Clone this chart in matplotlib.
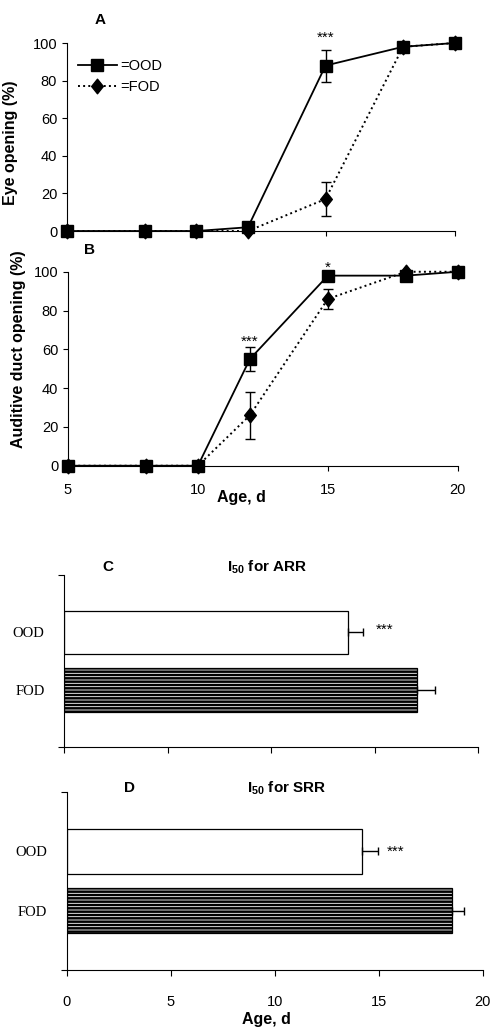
import numpy as np
import matplotlib
matplotlib.use("Agg")
import matplotlib.pyplot as plt
from matplotlib.path import Path

plt.rcParams["font.family"] = ["Liberation Sans", "DejaVu Sans"]
plt.rcParams["mathtext.fontset"] = "custom"
plt.rcParams["mathtext.rm"] = "Liberation Sans:bold"
plt.rcParams["mathtext.bf"] = "Liberation Sans:bold"
plt.rcParams["hatch.linewidth"] = 1.8

# Panels A and B: percentage of pups with opened eyes / auditive ducts by age
ages = [5, 8, 10, 12, 15, 18, 20]
eye_ood = [0, 0, 0, 2, 88, 98, 100]
eye_ood_err = [0, 0, 0, 0, 8.5, 0, 0]
eye_fod = [0, 0, 0, 0, 17, 98, 100]
eye_fod_err = [0, 0, 0, 0, 9, 0, 0]

duct_ood = [0, 0, 0, 55, 98, 98, 100]
duct_ood_err = [0, 0, 0, 6, 0, 0, 0]
duct_fod = [0, 0, 0, 26, 86, 100, 100]
duct_fod_err = [0, 0, 0, 12, 5, 0, 0]

# Panels C and D: I50 age (days) for the two reflexes
groups = ["FOD", "OOD"]
arr_i50 = [17.05, 13.7]
arr_err = [0.85, 0.75]
srr_i50 = [18.5, 14.2]
srr_err = [0.6, 0.75]

# diamond a bit wider than matplotlib's thin 'd'
DIAMOND = Path([(0, 1), (0.8, 0), (0, -1), (-0.8, 0), (0, 1)],
               [Path.MOVETO, Path.LINETO, Path.LINETO, Path.LINETO, Path.CLOSEPOLY])

fig = plt.figure(figsize=(4.96, 10.29), dpi=100)


def line_panel(ax, ood, ood_err, fod, fod_err):
    x = np.array(ages)
    ood = np.array(ood)
    fod = np.array(fod)
    ood_err = np.array(ood_err)
    fod_err = np.array(fod_err)

    ax.plot(x, fod, linestyle=":", color="black", linewidth=1.4, marker=DIAMOND,
            markersize=10.5, clip_on=False, zorder=2, label="=FOD")
    m = fod_err > 0
    ax.errorbar(x[m], fod[m], yerr=fod_err[m], fmt="none", ecolor="black",
                elinewidth=1.0, capsize=3.5, zorder=2)

    ax.plot(x, ood, linestyle="-", color="black", linewidth=1.3, marker="s",
            markersize=8, clip_on=False, zorder=3, label="=OOD")
    m = ood_err > 0
    ax.errorbar(x[m], ood[m], yerr=ood_err[m], fmt="none", ecolor="black",
                elinewidth=1.0, capsize=3.5, zorder=3)

    ax.set_xlim(5, 20)
    ax.set_ylim(0, 100)
    ax.set_yticks([0, 20, 40, 60, 80, 100])
    ax.set_xticks([5, 10, 15, 20])
    for side in ("top", "right"):
        ax.spines[side].set_visible(False)
    ax.tick_params(direction="out", length=3.5, width=0.8, labelsize=10.5)


# ---- A
axA = fig.add_axes([0.135, 0.7755, 0.782, 0.1827])
line_panel(axA, eye_ood, eye_ood_err, eye_fod, eye_fod_err)
axA.set_xticklabels([])
axA.set_ylabel("Eye opening (%)", fontsize=11.5, fontweight="bold")
axA.yaxis.set_label_coords(-0.125, 0.47)
axA.text(0.085, 1.12, "A", transform=axA.transAxes, fontsize=11,
         fontweight="bold", ha="center", va="center")
axA.text(15, 103, "***", ha="center", va="center", fontsize=11)
handles, labels = axA.get_legend_handles_labels()
axA.legend(handles[::-1], labels[::-1], loc="upper left",
           bbox_to_anchor=(0.02, 0.93), frameon=False, fontsize=10.5,
           handlelength=2.7, handletextpad=0.25, labelspacing=0.45,
           borderpad=0.2, borderaxespad=0.0)

# ---- B
axB = fig.add_axes([0.137, 0.5474, 0.786, 0.1885])
line_panel(axB, duct_ood, duct_ood_err, duct_fod, duct_fod_err)
axB.tick_params(axis="x", pad=9)
axB.set_ylabel("Auditive duct opening (%)", fontsize=11.5, fontweight="bold")
axB.yaxis.set_label_coords(-0.108, 0.6)
axB.set_xlabel("Age, d", fontsize=11.5, fontweight="bold")
axB.xaxis.set_label_coords(0.444, -0.125)
axB.text(0.056, 1.11, "B", transform=axB.transAxes, fontsize=11,
         fontweight="bold", ha="center", va="center")
axB.text(12, 64, "***", ha="center", va="center", fontsize=11)
axB.text(15, 102, "*", ha="center", va="center", fontsize=11)


def bar_panel(ax, values, errs, letter, title, letter_x, title_x, label_y, star_xy):
    pos = np.arange(1, len(groups) + 1)
    hatches = ["-----", ""]
    for p, v, e, h in zip(pos, values, errs, hatches):
        ax.barh(p, v, height=0.76, color="white", edgecolor="black",
                linewidth=0.9, hatch=h, zorder=2)
        ax.errorbar(v, p, xerr=[[0], [e]], fmt="none", ecolor="black",
                    elinewidth=1.0, capsize=3, zorder=3)
    ax.set_xlim(0, 20)
    ax.set_ylim(0, 3)
    ax.set_yticks(pos)
    ax.set_yticklabels(groups, family=["Liberation Serif"], fontsize=10.5)
    ax.set_yticks([0, 3], minor=True)
    ax.tick_params(axis="y", which="major", length=0, pad=14)
    ax.tick_params(axis="y", which="minor", length=4, width=0.8)
    ax.set_xticks([0, 5, 10, 15, 20])
    ax.tick_params(axis="x", direction="out", length=4, width=0.8,
                   labelsize=10.5, pad=14)
    for side in ("top", "right"):
        ax.spines[side].set_visible(False)
    ax.text(letter_x, label_y, letter, transform=ax.transAxes, fontsize=11,
            fontweight="bold", ha="center", va="center")
    ax.text(title_x, label_y, title, transform=ax.transAxes, fontsize=11,
            fontweight="bold", ha="center", va="center")
    ax.text(star_xy[0], star_xy[1], "***", ha="center", va="center", fontsize=11)


# ---- C
axC = fig.add_axes([0.129, 0.274, 0.835, 0.167])
bar_panel(axC, arr_i50, arr_err, "C", r"I$_{\mathbf{50}}$ for ARR",
          0.106, 0.49, 1.047, (15.5, 2.05))
axC.set_xticklabels([])

# ---- D
axD = fig.add_axes([0.1345, 0.0573, 0.839, 0.173])
bar_panel(axD, srr_i50, srr_err, "D", r"I$_{\mathbf{50}}$ for SRR",
          0.15, 0.528, 1.022, (15.8, 2.0))
axD.set_xlabel("Age, d", fontsize=11.5, fontweight="bold")
axD.xaxis.set_label_coords(0.48, -0.235)

fig.savefig("out.png", dpi=100)
